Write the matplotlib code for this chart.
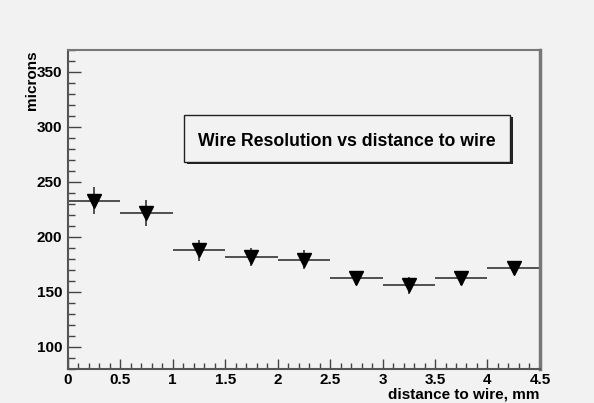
import matplotlib.pyplot as plt
import numpy as np
from matplotlib.ticker import MultipleLocator
from matplotlib.patches import Rectangle

plt.rcParams['font.family'] = ['Liberation Sans', 'DejaVu Sans']
plt.rcParams['font.weight'] = 'bold'

# data
distance = [0.25, 0.75, 1.25, 1.75, 2.25, 2.75, 3.25, 3.75, 4.25]
bin_half = [0.25, 0.25, 0.25, 0.25, 0.25, 0.25, 0.25, 0.25, 0.25]
resolution = [233, 222, 188, 182, 179.5, 162.5, 156, 162.5, 172]
res_err = [12, 12, 9.5, 8, 9, 6, 8, 6, 6]

W, H = 594, 403
bg = '#f2f2f2'
fig = plt.figure(figsize=(W / 100, H / 100), dpi=100, facecolor=bg)
ax = fig.add_axes([0.114, 0.0844, 0.795, 0.7916], facecolor=bg)

ax.errorbar(distance, resolution, xerr=bin_half, yerr=res_err, fmt='none',
            ecolor='#444444', elinewidth=1.3, capsize=0)
ax.plot(distance, resolution, 'v', color='black', markersize=10, linestyle='none')

ax.set_xlim(0, 4.5)
ax.set_ylim(80, 370)
ax.xaxis.set_minor_locator(MultipleLocator(0.1))
ax.yaxis.set_minor_locator(MultipleLocator(10))
ax.set_xticks(np.arange(0, 4.6, 0.5))
ax.set_xticklabels(['0', '0.5', '1', '1.5', '2', '2.5', '3', '3.5', '4', '4.5'])
ax.set_yticks([100, 150, 200, 250, 300, 350])

ax.tick_params(which='both', direction='in', color='#444444', width=1)
ax.tick_params(axis='x', which='major', length=7.5, labelsize=11, pad=3)
ax.tick_params(axis='x', which='minor', length=4)
ax.tick_params(axis='y', which='major', length=9.5, labelsize=11, pad=4)
ax.tick_params(axis='y', which='minor', length=5)
ax.tick_params(top=False, right=False, which='both')

for side in ['left', 'bottom']:
    ax.spines[side].set_color('#555555')
    ax.spines[side].set_linewidth(1.5)
ax.spines['top'].set_color('#777777')
ax.spines['top'].set_linewidth(1.5)
ax.spines['right'].set_color('#777777')
ax.spines['right'].set_linewidth(2.5)

ax.set_xlabel('distance to wire, mm', fontsize=11, fontweight='bold')
ax.xaxis.set_label_coords(1.0, -0.08)
ax.xaxis.label.set_horizontalalignment('right')
ax.xaxis.label.set_verticalalignment('center')
ax.set_ylabel('microns', fontsize=11, fontweight='bold')
ax.yaxis.set_label_coords(-0.0756, 1.0)
ax.yaxis.label.set_rotation_mode('anchor')
ax.yaxis.label.set_horizontalalignment('right')
ax.yaxis.label.set_verticalalignment('center')

# title box with shadow, in figure pixels
bx0, bx1, by0, by1 = 184, 510, 115, 162
fig.patches.append(Rectangle(((bx0 + 3) / W, 1 - (by1 + 2) / H), (bx1 - bx0) / W,
                             (by1 - by0) / H, transform=fig.transFigure,
                             facecolor='#222222', edgecolor='none', zorder=5))
fig.patches.append(Rectangle((bx0 / W, 1 - by1 / H), (bx1 - bx0) / W, (by1 - by0) / H,
                             transform=fig.transFigure, facecolor=bg,
                             edgecolor='#222222', linewidth=1, zorder=6))
fig.text((bx0 + bx1) / 2 / W, 1 - 141.5 / H, 'Wire Resolution vs distance to wire',
         ha='center', va='center', fontsize=12.7, fontweight='bold', zorder=7)

fig.savefig('out.png', dpi=100, facecolor=bg)
